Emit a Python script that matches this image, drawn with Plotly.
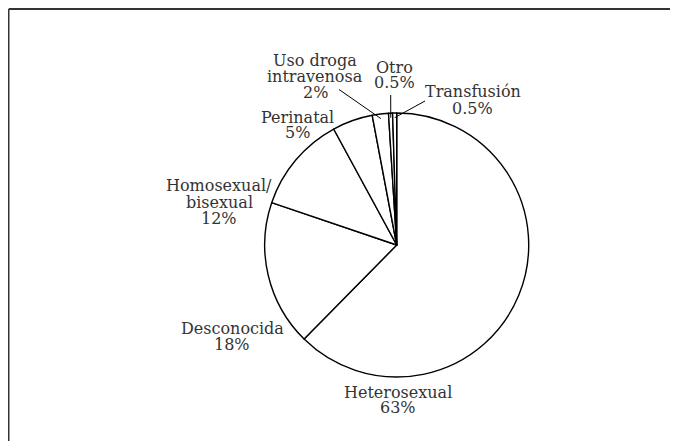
import plotly.graph_objects as go
import math

# ---- data ----
categories = ["Heterosexual", "Desconocida", "Homosexual/bisexual", "Perinatal",
              "Uso droga intravenosa", "Otro", "Transfusión"]
label_lines = [["Heterosexual"], ["Desconocida"], ["Homosexual/", "bisexual"], ["Perinatal"],
               ["Uso droga", "intravenosa"], ["Otro"], ["Transfusión"]]
values = [63, 18, 12, 5, 2, 0.5, 0.5]

# ---- layout constants (page pixels; the page body adds an 8px offset) ----
W, H = 678, 441
OFF = 8
CX, CY, R = 396.7, 245.0, 132.0
FONT = dict(family="DejaVu Serif", size=16, color="#333333")
# center of first text line for each category
label_pos = [(397.5, 392), (232, 328.5), (219, 186), (297, 117.5),
             (315, 61), (394, 67.5), (472.5, 91.5)]
line_gap = [15.5, 15.5, 16.3, 15.5, 15.7, 15.0, 17.0]
# outer end of leader lines (None = no leader)
leader_end = [None, None, None, None, (339, 89.5), (390.7, 95), (425, 101)]


def px(x):
    return (x - OFF) / W


def py(y):
    return 1 - (y - OFF) / H


fig = go.Figure(go.Pie(
    labels=categories, values=values, sort=False, direction="clockwise", rotation=0,
    textinfo="none", hoverinfo="label+value",
    marker=dict(colors=["white"] * len(values), line=dict(color="black", width=1.4)),
    domain=dict(x=[px(CX - R), px(CX + R)], y=[py(CY + R), py(CY - R)]),
    showlegend=False,
))

annotations = []
shapes = []
total = sum(values)
cum = 0
for i, v in enumerate(values):
    lines = label_lines[i] + [f"{v:g}%"]
    x0, y0 = label_pos[i]
    for k, t in enumerate(lines):
        annotations.append(dict(
            x=px(x0), y=py(y0 + k * line_gap[i]), xref="paper", yref="paper",
            text=t, showarrow=False, xanchor="center", yanchor="middle", font=FONT))
    mid = 2 * math.pi * (cum + v / 2) / total
    cum += v
    if leader_end[i] is not None:
        rin = 0.965 * R
        xi = CX + rin * math.sin(mid)
        yi = CY - rin * math.cos(mid)
        xo, yo = leader_end[i]
        shapes.append(dict(type="line", xref="paper", yref="paper",
                           x0=px(xo), y0=py(yo), x1=px(xi), y1=py(yi),
                           line=dict(color="black", width=1)))

# frame (top and left edges)
shapes.append(dict(type="line", xref="paper", yref="paper", x0=px(8.75), y0=py(9), x1=1.0, y1=py(9),
                   line=dict(color="#333333", width=2)))
shapes.append(dict(type="line", xref="paper", yref="paper", x0=px(8.75), y0=py(9), x1=px(8.75), y1=0,
                   line=dict(color="#333333", width=1.5)))

fig.update_layout(
    width=W, height=H, margin=dict(l=0, r=0, t=0, b=0),
    paper_bgcolor="white", plot_bgcolor="white",
    annotations=annotations, shapes=shapes,
)

fig.write_html("out.html", config={"displayModeBar": False})
